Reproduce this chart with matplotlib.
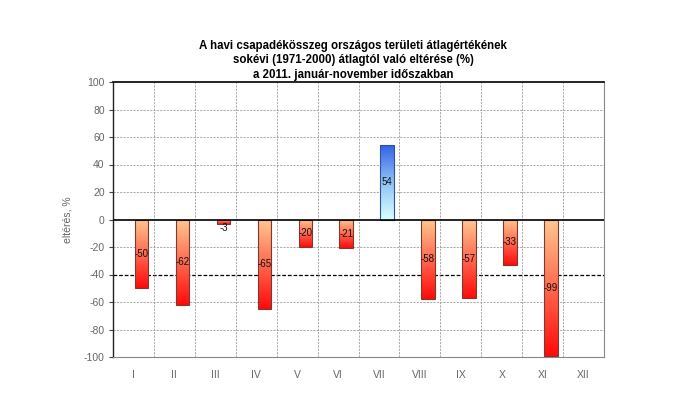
import numpy as np
import matplotlib
matplotlib.use("Agg")
import matplotlib.pyplot as plt
from matplotlib.colors import LinearSegmentedColormap

plt.rcParams['font.family'] = ['Liberation Sans', 'DejaVu Sans']
plt.rcParams['axes.unicode_minus'] = False

months = ["I", "II", "III", "IV", "V", "VI", "VII", "VIII", "IX", "X", "XI", "XII"]
values = [-50, -62, -3, -65, -20, -21, 54, -58, -57, -33, -99, np.nan]
labels = ["-50", "-62", "-3", "-65", "-20", "-21", "54", "-58", "-57", "-33", "-99", ""]
title = ("A havi csapadékösszeg országos területi átlagértékének\n"
         "sokévi (1971-2000) átlagtól való eltérése (%)\n"
         "a 2011. január-november időszakban")
ylabel = "eltérés, %"

fig = plt.figure(figsize=(6.77, 3.99), dpi=100)
ax = fig.add_axes([113/677, 1-357/399, (604-113)/677, (357-82)/399])

n = len(months)
x = np.arange(n)
offset = 0.2
width = 0.33

neg_cmap = LinearSegmentedColormap.from_list("neg", ["#ff0a0a", "#ff6a50", "#ffc890"])
pos_cmap = LinearSegmentedColormap.from_list("pos", ["#d8ffff", "#8fc0f5", "#2f5fe8"])

ax.set_xlim(-0.5, n - 0.5)
ax.set_ylim(-100, 100)

grad = np.linspace(0, 1, 256).reshape(-1, 1)
for xi, v, lab in zip(x, values, labels):
    if np.isnan(v):
        continue
    bars = ax.bar(xi + offset, v, width=width, facecolor="none",
                  edgecolor="#7a3a30" if v < 0 else "#3050a0", linewidth=0.8, zorder=4)
    rect = bars[0]
    x0 = xi + offset - width / 2
    x1 = xi + offset + width / 2
    if v < 0:
        im = ax.imshow(grad, extent=[x0, x1, v, 0], origin="lower", aspect="auto",
                       cmap=neg_cmap, zorder=3)
    else:
        im = ax.imshow(grad, extent=[x0, x1, 0, v], origin="lower", aspect="auto",
                       cmap=pos_cmap, zorder=3)
    im.set_clip_path(rect)
    ypos = v / 2 if abs(v) > 10 else v + 3.5 * np.sign(v)
    ax.text(xi + offset, ypos, lab, ha="center", va="center", fontsize=7,
            color="#111111", zorder=6)

ax.set_xlim(-0.5, n - 0.5)
ax.set_ylim(-100, 100)

ax.set_yticks(np.arange(-100, 101, 20))
ax.set_xticks(x)
ax.set_xticklabels(months)
ax.tick_params(axis="x", which="both", length=0, pad=9, labelsize=7.5, labelcolor="#666666")
ax.tick_params(axis="y", length=3, color="#444444", labelsize=7.5, labelcolor="#666666", pad=3)

for yv in np.arange(-80, 100, 20):
    if yv == 0:
        continue
    if yv == -40:
        ax.axhline(yv, color="#000000", linestyle=(0, (3, 1.5)), linewidth=0.9, zorder=1)
    else:
        ax.axhline(yv, color="#999999", linestyle=(0, (2.5, 1.5)), linewidth=0.6, zorder=1)
for xv in np.arange(0.5, n - 0.5, 1.0):
    ax.axvline(xv, color="#999999", linestyle=(0, (2.5, 1.5)), linewidth=0.6, zorder=1)
ax.axhline(0, color="#000000", linewidth=1.2, zorder=5)

ax.spines["top"].set_color("#000000")
ax.spines["top"].set_linewidth(1.2)
ax.spines["left"].set_color("#222222")
ax.spines["left"].set_linewidth(1.0)
ax.spines["right"].set_color("#888888")
ax.spines["bottom"].set_color("#888888")

ax.set_ylabel(ylabel, fontsize=7.5, color="#666666", labelpad=8)
fig.text(353/677, 1 - 39.5/399, title, ha="center", va="top", fontsize=8.3,
         fontweight="bold", linespacing=1.3)

fig.savefig("out.png", dpi=100)
